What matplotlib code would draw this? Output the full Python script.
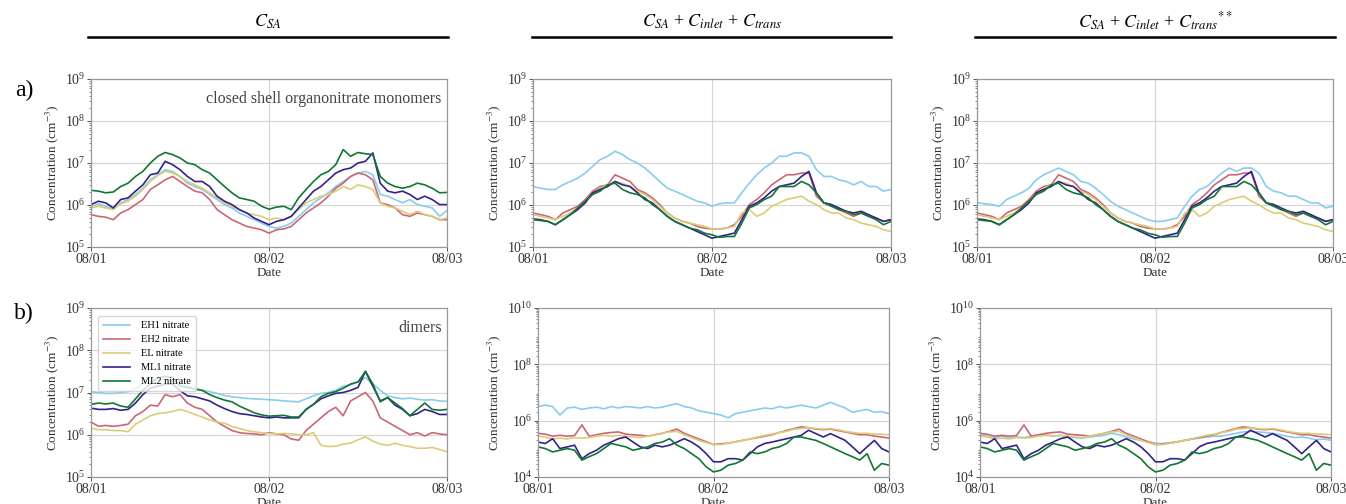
import numpy as np
import matplotlib
matplotlib.use("Agg")
import matplotlib.pyplot as plt
from matplotlib.lines import Line2D
from matplotlib.ticker import LogLocator, NullFormatter

# ---------------- DATA (log10 of concentration, hourly, 08/01 00:00 -> 08/03 00:00) ----------------
hours = list(range(49))
x_tick_pos = [0, 24, 48]
x_tick_labels = ["08/01", "08/02", "08/03"]

series_names = ["EH1 nitrate", "EH2 nitrate", "EL nitrate", "ML1 nitrate", "ML2 nitrate"]
series_colors = ["#88CCEE", "#CC6677", "#DDCC77", "#332288", "#117733"]

column_titles = [r"$C_{SA}$",
                 r"$C_{SA}$ + $C_{inlet}$ + $C_{trans}$",
                 r"$C_{SA}$ + $C_{inlet}$ + $C_{trans}{}^{**}$"]
row_letters = ["a)", "b)"]
row_notes = ["closed shell organonitrate monomers", "dimers"]

# Row a, column 1 (C_SA) - monomers
a1_EH1 = [5.95,6.03,5.97,5.90,6.05,6.13,6.25,6.40,6.60,6.72,6.84,6.80,6.68,6.52,6.44,6.37,6.25,6.13,6.01,5.93,5.81,5.73,5.65,5.57,5.49,
          5.45,5.49,5.57,5.73,5.89,6.05,6.17,6.29,6.44,6.56,6.68,6.76,6.80,6.72,6.25,6.21,6.13,6.05,6.13,6.01,5.97,5.93,5.73,5.87]
a1_EH2 = [5.77,5.73,5.71,5.65,5.81,5.89,6.01,6.13,6.37,6.48,6.60,6.68,6.56,6.44,6.33,6.29,6.13,5.89,5.77,5.65,5.57,5.49,5.45,5.41,5.33,
          5.41,5.43,5.49,5.65,5.81,5.93,6.05,6.21,6.40,6.52,6.68,6.76,6.72,6.60,6.05,6.01,5.93,5.77,5.73,5.81,5.77,5.73,5.65,5.65]
a1_EL  = [5.93,5.97,5.93,5.89,6.03,6.09,6.21,6.37,6.56,6.70,6.80,6.76,6.68,6.56,6.48,6.40,6.29,6.17,6.05,5.97,5.89,5.81,5.77,5.73,5.65,
          5.69,5.65,5.73,5.89,6.05,6.13,6.21,6.25,6.33,6.44,6.37,6.48,6.44,6.37,6.05,5.97,5.93,5.85,5.77,5.85,5.77,5.73,5.65,5.69]
a1_ML1 = [6.01,6.09,6.05,5.93,6.13,6.17,6.33,6.48,6.72,6.76,7.04,6.96,6.84,6.68,6.56,6.56,6.44,6.21,6.09,6.01,5.89,5.81,5.69,5.61,5.53,
          5.61,5.65,5.73,5.93,6.13,6.33,6.44,6.60,6.76,6.84,6.88,7.00,7.04,7.24,6.52,6.33,6.29,6.33,6.25,6.13,6.21,6.13,6.01,6.01]
a1_ML2 = [6.35,6.33,6.29,6.31,6.44,6.52,6.68,6.80,7.00,7.16,7.25,7.20,7.12,7.00,6.96,6.84,6.76,6.60,6.44,6.29,6.17,6.13,6.09,5.97,5.90,
          5.95,5.97,5.89,6.17,6.37,6.56,6.72,6.80,6.96,7.32,7.16,7.25,7.22,7.20,6.68,6.52,6.44,6.40,6.44,6.52,6.48,6.40,6.29,6.30]

# Row a, column 2 (C_SA + C_inlet + C_trans)
a2_EH1 = [6.44,6.40,6.37,6.37,6.48,6.56,6.64,6.76,6.92,7.08,7.16,7.28,7.20,7.08,7.00,6.88,6.72,6.56,6.40,6.33,6.25,6.17,6.09,6.05,5.97,
          6.03,6.05,6.05,6.29,6.52,6.72,6.88,7.00,7.16,7.16,7.24,7.24,7.16,6.84,6.68,6.68,6.60,6.56,6.48,6.56,6.44,6.44,6.33,6.37]
a2_EH2 = [5.81,5.77,5.73,5.65,5.81,5.89,5.97,6.13,6.33,6.44,6.48,6.72,6.64,6.56,6.37,6.29,6.17,6.01,5.81,5.69,5.61,5.57,5.49,5.45,5.43,
          5.43,5.45,5.53,5.73,6.01,6.13,6.29,6.48,6.60,6.72,6.72,6.76,6.76,6.21,6.05,6.01,5.89,5.81,5.73,5.81,5.73,5.69,5.61,5.65]
a2_EL  = [5.77,5.73,5.69,5.65,5.73,5.81,5.93,6.05,6.29,6.40,6.48,6.56,6.52,6.44,6.33,6.25,6.13,5.97,5.81,5.69,5.61,5.57,5.53,5.49,5.43,
          5.43,5.45,5.49,5.81,5.89,5.73,5.81,5.97,6.05,6.13,6.17,6.21,6.09,6.01,5.89,5.81,5.81,5.69,5.65,5.57,5.53,5.49,5.41,5.37]
a2_ML1 = [5.67,5.65,5.61,5.53,5.65,5.77,5.89,6.05,6.29,6.37,6.44,6.56,6.48,6.44,6.29,6.13,6.05,5.89,5.73,5.61,5.53,5.45,5.37,5.29,5.21,
          5.25,5.29,5.33,5.65,5.97,6.05,6.17,6.33,6.44,6.48,6.52,6.68,6.80,6.29,6.05,6.01,5.93,5.85,5.81,5.85,5.77,5.69,5.61,5.65]
a2_ML2 = [5.65,5.63,5.61,5.53,5.65,5.77,5.93,6.09,6.25,6.33,6.48,6.52,6.37,6.29,6.25,6.17,6.01,5.89,5.73,5.61,5.53,5.45,5.41,5.33,5.29,
          5.23,5.25,5.25,5.57,5.93,6.01,6.13,6.21,6.44,6.44,6.44,6.56,6.48,6.29,6.05,5.97,5.89,5.85,5.77,5.81,5.73,5.65,5.53,5.61]

# Row a, column 3 (C_SA + C_inlet + C_trans**) - only EH1 differs visibly from column 2
a3_EH1 = [6.06,6.03,6.01,5.97,6.13,6.21,6.29,6.40,6.60,6.72,6.80,6.88,6.80,6.72,6.56,6.52,6.40,6.25,6.09,5.97,5.89,5.81,5.73,5.65,5.61,
          5.61,5.65,5.69,5.97,6.21,6.37,6.44,6.60,6.76,6.88,6.80,6.88,6.88,6.76,6.44,6.33,6.29,6.21,6.21,6.13,6.05,6.05,5.93,5.97]
a3_EH2 = a2_EH2
a3_EL = a2_EL
a3_ML1 = a2_ML1
a3_ML2 = a2_ML2

# Row b, column 1 (C_SA) - dimers
b1_EH1 = [7.02,7.00,6.98,6.98,7.00,7.02,7.10,7.20,7.28,7.30,7.30,7.28,7.22,7.15,7.10,7.05,7.02,6.98,6.93,6.90,6.88,6.86,6.85,6.84,6.83,
          6.82,6.80,6.79,6.78,6.85,6.92,6.98,7.00,7.05,7.15,7.18,7.25,7.35,7.20,7.05,6.92,6.88,6.85,6.87,6.84,6.82,6.83,6.80,6.79]
b1_EH2 = [6.30,6.20,6.22,6.20,6.22,6.25,6.45,6.55,6.70,6.68,6.95,6.90,6.95,6.75,6.65,6.60,6.45,6.30,6.20,6.10,6.05,6.03,6.02,6.00,6.05,
          6.02,6.00,5.90,5.87,6.10,6.25,6.40,6.55,6.65,6.45,6.80,6.90,7.00,6.80,6.40,6.30,6.20,6.10,6.00,6.05,5.97,6.05,6.02,6.00]
b1_EL  = [6.15,6.12,6.12,6.10,6.10,6.07,6.25,6.35,6.45,6.50,6.52,6.55,6.60,6.55,6.48,6.42,6.35,6.30,6.27,6.20,6.15,6.10,6.07,6.05,6.03,
          6.02,6.03,6.02,6.00,6.00,6.05,5.75,5.72,5.73,5.78,5.80,5.88,5.95,5.85,5.78,5.75,5.80,5.75,5.72,5.68,5.68,5.70,5.65,5.60]
b1_ML1 = [6.63,6.60,6.60,6.62,6.58,6.60,6.75,6.95,7.10,7.15,7.20,7.20,7.05,6.92,6.90,6.85,6.80,6.70,6.62,6.55,6.50,6.48,6.45,6.42,6.40,
          6.42,6.40,6.40,6.40,6.60,6.72,6.85,6.92,6.98,7.00,7.05,7.12,7.50,7.15,6.80,6.88,6.70,6.60,6.45,6.50,6.60,6.55,6.48,6.48]
b1_ML2 = [6.72,6.75,6.73,6.75,6.68,6.65,6.85,7.05,7.20,7.35,7.38,7.35,7.15,7.12,7.08,7.05,6.95,6.88,6.82,6.78,6.68,6.60,6.52,6.47,6.44,
          6.45,6.46,6.42,6.42,6.60,6.72,6.90,6.98,7.02,7.10,7.20,7.25,7.50,7.20,6.78,6.88,6.75,6.62,6.45,6.60,6.75,6.60,6.58,6.60]

# Row b, column 2
b2_EH1 = [6.50,6.55,6.50,6.20,6.45,6.48,6.40,6.45,6.48,6.42,6.50,6.45,6.50,6.48,6.45,6.50,6.45,6.48,6.55,6.60,6.50,6.45,6.35,6.30,6.25,
          6.20,6.10,6.25,6.30,6.35,6.40,6.45,6.42,6.50,6.45,6.50,6.55,6.50,6.45,6.55,6.65,6.55,6.45,6.30,6.35,6.40,6.30,6.32,6.25]
b2_EH2 = [5.55,5.52,5.45,5.48,5.45,5.47,5.85,5.45,5.50,5.55,5.58,5.60,5.52,5.50,5.48,5.45,5.50,5.55,5.62,5.70,5.55,5.45,5.35,5.25,5.15,
          5.18,5.20,5.25,5.30,5.35,5.40,5.45,5.50,5.58,5.65,5.72,5.78,5.75,5.70,5.68,5.70,5.65,5.60,5.55,5.50,5.50,5.45,5.42,5.38]
b2_EL  = [5.45,5.42,5.35,5.38,5.35,5.40,5.38,5.40,5.45,5.48,5.45,5.48,5.45,5.42,5.40,5.45,5.50,5.55,5.60,5.62,5.50,5.40,5.30,5.22,5.15,
          5.15,5.20,5.25,5.30,5.35,5.42,5.48,5.52,5.58,5.62,5.70,5.72,5.75,5.72,5.70,5.72,5.68,5.62,5.58,5.55,5.55,5.52,5.52,5.50]
b2_ML1 = [5.24,5.19,5.36,5.01,5.07,5.13,4.65,4.83,4.95,5.13,5.24,5.36,5.42,5.24,5.07,5.01,5.13,5.07,5.13,5.24,5.36,5.24,5.07,4.83,4.54,
          4.54,4.65,4.65,4.60,4.83,5.07,5.19,5.24,5.30,5.36,5.42,5.48,5.66,5.54,5.42,5.54,5.42,5.30,5.07,4.83,5.07,5.30,5.01,4.89]
b2_ML2 = [5.07,5.01,4.89,4.95,5.01,4.95,4.60,4.72,4.83,5.01,5.19,5.13,5.07,4.95,5.01,5.07,5.19,5.24,5.36,5.13,5.01,4.83,4.65,4.36,4.18,
          4.24,4.42,4.48,4.60,4.89,4.83,4.89,5.01,5.07,5.19,5.42,5.42,5.36,5.30,5.19,5.07,4.95,4.83,4.72,4.60,4.83,4.24,4.48,4.42]

# Row b, column 3 - only EH1 differs visibly from column 2
b3_EH1 = [5.50,5.45,5.40,5.45,5.38,5.42,5.40,5.45,5.48,5.50,5.45,5.48,5.42,5.40,5.38,5.42,5.45,5.48,5.55,5.50,5.42,5.35,5.30,5.25,5.20,
          5.18,5.22,5.25,5.30,5.35,5.38,5.42,5.45,5.45,5.50,5.55,5.60,5.62,5.60,5.58,5.55,5.50,5.45,5.40,5.42,5.38,5.32,5.35,5.30]
b3_EH2 = b2_EH2
b3_EL = b2_EL
b3_ML1 = b2_ML1
b3_ML2 = b2_ML2

panel_data = [
    [[a1_EH1, a1_EH2, a1_EL, a1_ML1, a1_ML2],
     [a2_EH1, a2_EH2, a2_EL, a2_ML1, a2_ML2],
     [a3_EH1, a3_EH2, a3_EL, a3_ML1, a3_ML2]],
    [[b1_EH1, b1_EH2, b1_EL, b1_ML1, b1_ML2],
     [b2_EH1, b2_EH2, b2_EL, b2_ML1, b2_ML2],
     [b3_EH1, b3_EH2, b3_EL, b3_ML1, b3_ML2]],
]
ylims = [[(1e5, 1e9)] * 3, [(1e5, 1e9), (1e4, 1e10), (1e4, 1e10)]]

# ---------------- STYLE ----------------
plt.rcParams["font.family"] = ["Liberation Serif", "DejaVu Serif"]
plt.rcParams["mathtext.fontset"] = "stix"

W, H = 1346, 504
fig = plt.figure(figsize=(W / 100, H / 100), dpi=100)

def fx(px):
    return px / W

def fy(py):
    return 1 - py / H

# axes boxes in pixel coordinates: (left, top, right, bottom)
boxes = [
    [(91, 79, 447, 247), (533, 79, 891, 247), (977, 79, 1333, 247)],
    [(91, 308, 447, 477), (538, 308, 889, 477), (980, 308, 1331, 477)],
]

spine_col = "#9a9a9a"
for r in range(2):
    for c in range(3):
        l, t, rr, b = boxes[r][c]
        ax = fig.add_axes([fx(l), fy(b), fx(rr - l), (b - t) / H])
        for k, vals in enumerate(panel_data[r][c]):
            ax.plot(hours, 10 ** np.array(vals), color=series_colors[k], lw=1.2,
                    label=series_names[k])
        ax.set_yscale("log")
        ax.set_ylim(*ylims[r][c])
        ax.set_xlim(hours[0], hours[-1])
        if r == 1 and c > 0:
            ax.set_yticks([1e4, 1e6, 1e8, 1e10])
        ax.yaxis.set_minor_locator(LogLocator(base=10, subs=np.arange(2, 10), numticks=20))
        ax.yaxis.set_minor_formatter(NullFormatter())
        ax.set_xticks(x_tick_pos)
        ax.set_xticklabels(x_tick_labels)
        ax.grid(True, which="major", color="#d4d4d4", lw=0.8)
        for s in ax.spines.values():
            s.set_color(spine_col)
            s.set_linewidth(0.9)
        ax.tick_params(axis="both", which="major", labelsize=10, length=3, width=0.6,
                       colors="#333333", pad=1)
        ax.tick_params(axis="y", which="minor", length=1.8, width=0.5, colors="#555555")
        ax.set_xlabel("Date", fontsize=9.5, color="#333333", labelpad=1)
        ax.set_ylabel(r"Concentration (cm$^{-3}$)", fontsize=9.5, color="#333333", labelpad=3)
        if c == 0:
            ax.text(0.985, 0.93, row_notes[r], transform=ax.transAxes, ha="right", va="top",
                    fontsize=11.5, color="#444444")
        if r == 1 and c == 0:
            ax.legend(loc="upper left", fontsize=7.5, frameon=True, framealpha=0.8,
                      edgecolor="#cccccc", handlelength=2.6, labelspacing=0.45,
                      borderpad=0.5, handletextpad=1.0, bbox_to_anchor=(0.005, 0.985))

# row letters
fig.text(fx(24), fy(90), row_letters[0], fontsize=17, ha="center", va="center")
fig.text(fx(24), fy(313), row_letters[1], fontsize=17, ha="center", va="center")

# column headers with rule lines
header_spans = [(88, 448), (532, 891), (975, 1335)]
for (x0, x1), title in zip(header_spans, column_titles):
    fig.text(fx((x0 + x1) / 2), fy(22), title, fontsize=13, ha="center", va="center")
    fig.add_artist(Line2D([fx(x0), fx(x1)], [fy(37), fy(37)], color="black", lw=1.8))

fig.savefig("out.png", dpi=100)
